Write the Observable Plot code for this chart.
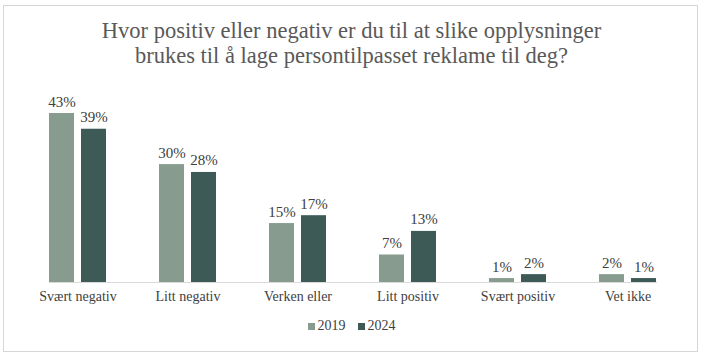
<!DOCTYPE html>
<html>
<head>
<meta charset="utf-8">
<script src="https://cdn.jsdelivr.net/npm/d3@7"></script>
<script src="https://cdn.jsdelivr.net/npm/@observablehq/plot@0.6"></script>
<style>
  body { margin: 0; background: #fff; font-family: "Liberation Serif", serif; }
  #wrap { position: relative; width: 703px; height: 355px; }
  #border { position: absolute; left: 3px; top: 5px; width: 693px; height: 345px; border: 1px solid #d6d6d6; pointer-events: none; }
  #title { position: absolute; left: 0; top: 18px; width: 703px; text-align: center; font-size: 22.5px; line-height: 25px; color: #595959; }
  #chart { position: absolute; left: 0; top: 70px; }
  #legend { position: absolute; top: 318px; left: 0; width: 703px; display: flex; justify-content: center; gap: 12px; font-size: 14px; color: #404040; }
  .item { display: flex; align-items: center; gap: 3px; }
  .sw { width: 7px; height: 7px; display: inline-block; }
</style>
</head>
<body>
<div id="wrap">
  <div id="title">Hvor positiv eller negativ er du til at slike opplysninger<br>brukes til å lage persontilpasset reklame til deg?</div>
  <div id="chart"></div>
  <div id="legend"></div>
  <div id="border"></div>
</div>
<script>
const categories = ["Svært negativ", "Litt negativ", "Verken eller", "Litt positiv", "Svært positiv", "Vet ikke"];
const years = ["2019", "2024"];
const values2019 = [43, 30, 15, 7, 1, 2];
const values2024 = [39, 28, 17, 13, 2, 1];
const colors = ["#879c8f", "#3d5a57"];

const data = categories.flatMap((c, i) => [
  {cat: c, year: years[0], value: values2019[i]},
  {cat: c, year: years[1], value: values2024[i]}
]);

const chart = Plot.plot({
  width: 703,
  height: 242,
  marginLeft: 20,
  marginRight: 19,
  marginTop: 15.5,
  marginBottom: 30,
  style: {fontFamily: "Liberation Serif", fontSize: "14px", color: "#404040", background: "transparent"},
  fx: {domain: categories, paddingInner: 0.485, paddingOuter: 0.2425, label: null, axis: null},
  x: {domain: years, paddingInner: 0.22, paddingOuter: 0, axis: null},
  y: {domain: [0, 50], axis: null},
  color: {domain: years, range: colors},
  marks: [
    Plot.frame({anchor: "bottom", facet: "super", stroke: "#d9d9d9"}),
    Plot.barY(data, {fx: "cat", x: "year", y: "value", fill: "year"}),
    Plot.text(data, {fx: "cat", x: "year", y: "value", text: d => d.value + "%", dy: -7, lineAnchor: "bottom", fontSize: 15, fill: "#404040"}),
    Plot.axisFx({anchor: "bottom", tickSize: 0, tickPadding: 9, fontSize: 14, fill: "#404040", label: null})
  ]
});
document.getElementById("chart").appendChild(chart);

const legend = document.getElementById("legend");
years.forEach((y, i) => {
  const item = document.createElement("div");
  item.className = "item";
  const sw = document.createElement("span");
  sw.className = "sw";
  sw.style.background = colors[i];
  const t = document.createElement("span");
  t.textContent = y;
  item.appendChild(sw);
  item.appendChild(t);
  legend.appendChild(item);
});
</script>
</body>
</html>
